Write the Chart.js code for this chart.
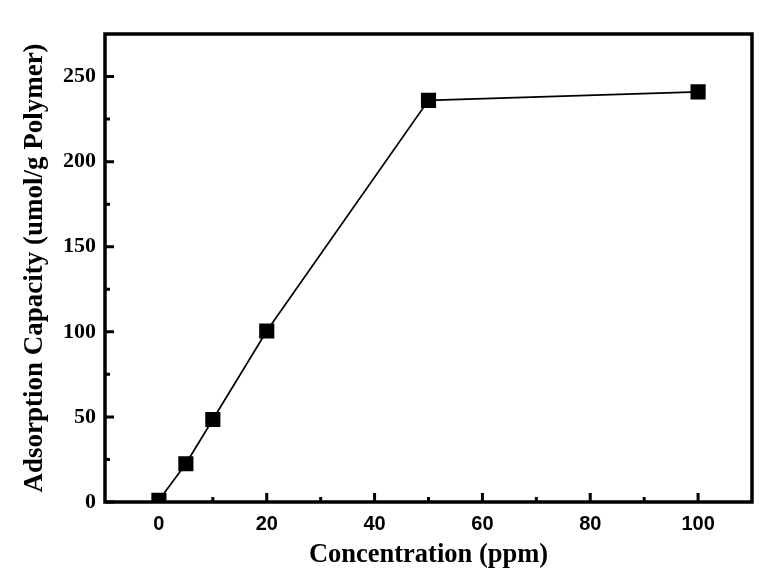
<!DOCTYPE html>
<html>
<head>
<meta charset="utf-8">
<script src="https://cdn.jsdelivr.net/npm/chart.js@4"></script>
<style>
  html, body { margin: 0; padding: 0; background: #fff; }
  #wrap { position: relative; width: 775px; height: 581px; }
</style>
</head>
<body>
<div id="wrap"><canvas id="cv" width="775" height="581"></canvas></div>
<script>
// valores
const concentrations = [0, 5, 10, 20, 50, 100];
const capacities = [1, 22.5, 48.5, 100.5, 236, 241];
const xTickValues = [0, 20, 40, 60, 80, 100];
const xMinorValues = [10, 30, 50, 70, 90];
const yTickValues = [0, 50, 100, 150, 200, 250];
const yMinorValues = [25, 75, 125, 175, 225];
const xTitle = 'Concentration (ppm)';
const yTitle = 'Adsorption Capacity (umol/g Polymer)';

const points = concentrations.map((x, i) => ({ x, y: capacities[i] }));
const serif = "'Liberation Serif', 'Times New Roman', serif";
const sans = "'Liberation Sans', Arial, sans-serif";

// moldura + ticks para dentro (Chart.js não tem tick interno nativo)
const frameTicks = {
  id: 'frameTicks',
  afterDraw(chart) {
    const { ctx, chartArea: a, scales: { x, y } } = chart;
    ctx.save();
    ctx.strokeStyle = '#000';
    ctx.lineWidth = 3;
    ctx.beginPath();
    const tick = (px, len, vertical) => {
      if (vertical) { ctx.moveTo(px, a.bottom); ctx.lineTo(px, a.bottom - len); }
      else { ctx.moveTo(a.left, px); ctx.lineTo(a.left + len, px); }
    };
    xTickValues.forEach(v => tick(x.getPixelForValue(v), 9, true));
    xMinorValues.forEach(v => tick(x.getPixelForValue(v), 5, true));
    yTickValues.forEach(v => tick(y.getPixelForValue(v), 9, false));
    yMinorValues.forEach(v => tick(y.getPixelForValue(v), 5, false));
    ctx.stroke();
    ctx.lineWidth = 3.5;
    ctx.strokeRect(a.left, a.top, a.right - a.left, a.bottom - a.top);
    ctx.restore();
  }
};

new Chart(document.getElementById('cv'), {
  type: 'scatter',
  data: {
    datasets: [{
      data: points,
      showLine: true,
      borderColor: '#000',
      borderWidth: 1.7,
      backgroundColor: '#000',
      pointStyle: 'rect',
      pointRadius: 9.5,
      pointHoverRadius: 9.5,
      tension: 0
    }]
  },
  options: {
    responsive: false,
    animation: false,
    layout: { padding: { top: 34, right: 23, left: 0, bottom: 0 } },
    plugins: { legend: { display: false }, tooltip: { enabled: false } },
    scales: {
      x: {
        type: 'linear', min: -10, max: 110,
        afterBuildTicks: s => { s.ticks = xTickValues.map(value => ({ value })); },
        afterFit: s => { s.height = 79; },
        grid: { display: false, drawTicks: false },
        border: { display: false },
        ticks: { color: '#000', padding: 10, font: { family: sans, size: 20, weight: 'bold' } },
        title: { display: true, text: xTitle, color: '#000', padding: { top: 6, bottom: 10 }, font: { family: serif, size: 26.5, weight: 'bold' } }
      },
      y: {
        type: 'linear', min: 0, max: 275,
        afterBuildTicks: s => { s.ticks = yTickValues.map(value => ({ value })); },
        afterFit: s => { s.width = 105; },
        grid: { display: false, drawTicks: false },
        border: { display: false },
        ticks: { color: '#000', padding: 9, font: { family: serif, size: 22, weight: 'bold' } },
        title: { display: true, text: yTitle, color: '#000', padding: { top: 19, bottom: 6 }, font: { family: serif, size: 27, weight: 'bold' } }
      }
    }
  },
  plugins: [frameTicks]
});
</script>
</body>
</html>
